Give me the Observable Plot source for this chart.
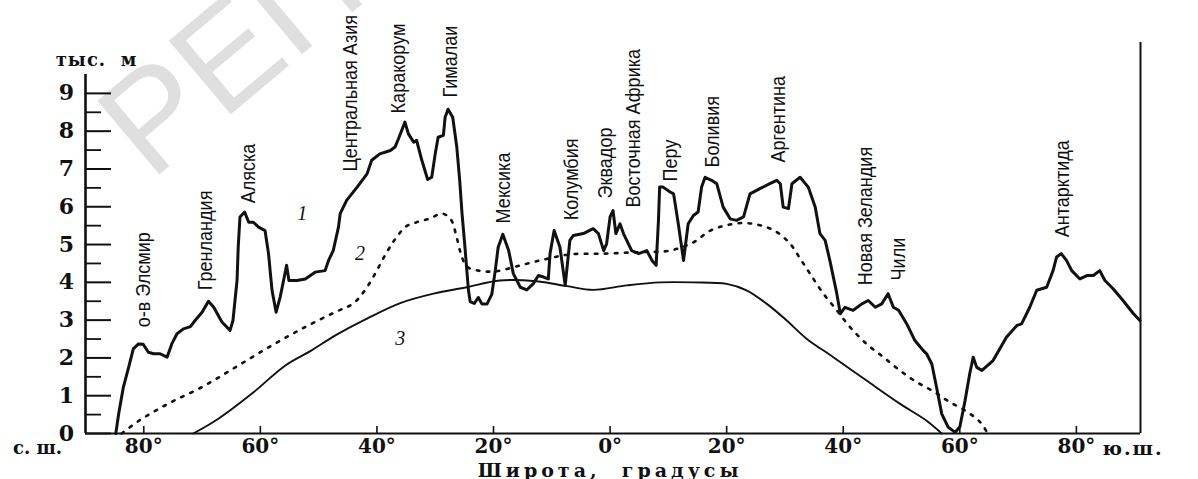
<!DOCTYPE html>
<html><head><meta charset="utf-8">
<script src="https://cdn.jsdelivr.net/npm/d3@7"></script>
<script src="https://cdn.jsdelivr.net/npm/@observablehq/plot@0.6"></script>
<style>body{margin:0;background:#fff;} svg{display:block;}</style>
</head><body><div id="chart"></div>
<script>
// Curve 1: maximal elevations (thick line)
const curve1Lat = [-84.8,-84.3,-83.5,-82.6,-81.8,-80.9,-80.1,-79.2,-78.3,-77.2,
-76.0,-75.2,-74.3,-73.2,-72.0,-71.2,-70.0,-68.9,-68.0,-66.6,
-65.2,-64.7,-64.0,-63.8,-63.5,-62.7,-62.0,-61.2,-60.3,-59.2,
-58.6,-58.0,-57.3,-56.6,-55.9,-55.5,-55.1,-53.7,-52.3,-50.6,
-48.9,-48.3,-47.5,-46.6,-46.3,-45.2,-43.4,-41.7,-40.9,-39.5,
-37.7,-36.9,-36.3,-35.2,-34.6,-33.7,-33.2,-32.3,-31.3,-30.6,
-30.0,-29.5,-28.6,-28.3,-27.8,-27.0,-26.3,-25.8,-25.4,-24.9,
-24.3,-24.0,-23.3,-22.6,-22.0,-21.1,-20.3,-19.7,-19.2,-18.4,
-17.4,-16.6,-15.4,-14.3,-13.2,-12.3,-11.4,-10.6,-10.3,-9.6,
-8.6,-7.7,-6.9,-6.3,-4.6,-2.9,-2.0,-1.1,-0.6,0,
0.5,1.0,1.7,2.3,3.7,4.9,6.3,7.2,7.9,8.3,
8.5,9.1,10.3,10.9,11.7,12.6,13.4,14.3,15.1,15.7,
16.3,17.4,18.3,19.4,20.6,21.7,22.9,24.0,25.7,27.4,
28.6,29.2,29.7,30.6,31.2,32.6,34.0,35.2,36.0,36.9,
37.7,38.9,39.5,40.3,41.7,43.2,44.3,45.5,46.6,47.7,
48.6,49.5,50.9,52.3,53.7,54.3,55.2,56.0,56.9,58.0,
59.2,60.0,60.9,61.7,62.3,62.9,63.8,65.7,68.0,69.8,
70.6,72.0,73.2,74.9,76.0,76.6,77.4,78.3,79.2,80.6,
81.8,82.9,84.0,84.9,86.3,88.0,89.8,90.9];
const curve1Km = [0,0.53,1.23,1.75,2.24,2.37,2.36,2.15,2.11,2.11,
2.02,2.37,2.64,2.77,2.83,2.99,3.21,3.50,3.34,2.95,
2.73,2.99,4.05,4.93,5.73,5.86,5.59,5.59,5.46,5.37,
4.76,3.79,3.21,3.61,4.14,4.45,4.05,4.05,4.09,4.27,
4.31,4.58,4.84,5.46,5.82,6.17,6.52,6.87,7.23,7.40,
7.49,7.58,7.80,8.24,7.93,7.71,7.76,7.23,6.72,6.78,
7.40,7.84,7.89,8.37,8.58,8.37,7.58,6.70,5.82,4.93,
3.79,3.49,3.44,3.60,3.43,3.43,3.68,4.31,4.93,5.27,
4.84,4.23,3.87,3.80,3.96,4.18,4.14,4.09,4.76,5.37,
4.93,3.92,5.11,5.24,5.29,5.42,5.29,4.84,5.02,5.73,
5.90,5.29,5.55,5.29,4.84,4.76,4.84,4.58,4.45,5.64,
6.52,6.52,6.39,6.34,5.55,4.58,5.55,5.77,5.86,6.52,
6.78,6.70,6.61,5.99,5.68,5.64,5.73,6.34,6.48,6.61,
6.70,6.61,5.99,5.95,6.61,6.78,6.52,5.99,5.29,5.11,
4.58,3.70,3.17,3.34,3.26,3.43,3.52,3.34,3.43,3.70,
3.34,3.26,2.90,2.46,2.20,2.11,1.84,1.23,0.52,0.17,
0.03,0.17,0.87,1.58,2.02,1.75,1.67,1.93,2.55,2.86,
2.90,3.34,3.79,3.87,4.31,4.67,4.76,4.58,4.31,4.09,
4.18,4.18,4.31,4.05,3.83,3.52,3.17,2.99];

// Curve 2: dotted line
const curve2Lat = [-83.8,-80.9,-75.8,-70.0,-64.3,-58.6,-52.9,-47.2,-44.0,-41.5,
-38.3,-36.6,-35.0,-33.2,-30.9,-28.8,-27.3,-26.4,-25.6,-24.6,
-22.6,-19.7,-15.4,-10.9,-6.9,-1.1,5.1,10.3,14.3,17.2,
20.0,22.9,25.7,28.3,30.9,32.6,34.3,36.6,38.9,41.2,
44.0,46.9,49.7,52.6,55.5,58.3,61.2,63.5,64.8];
const curve2Km = [0,0.33,0.79,1.23,1.75,2.28,2.77,3.21,3.45,3.92,
4.80,5.20,5.48,5.59,5.69,5.82,5.66,5.24,4.76,4.42,
4.31,4.29,4.45,4.62,4.74,4.76,4.80,4.84,5.06,5.37,
5.51,5.57,5.51,5.36,5.02,4.63,4.23,3.70,3.26,2.81,
2.37,2.02,1.67,1.36,1.11,0.83,0.58,0.30,0];

// Curve 3: thin solid line
const curve3Lat = [-71.5,-67.2,-61.5,-55.7,-51.2,-47.2,-41.7,-36.0,-30.3,-24.6,
-18.9,-12.6,-7.4,-2.9,2.9,8.6,14.3,20.0,23.4,26.9,
30.3,33.7,38.3,44.0,49.7,54.3,56.9];
const curve3Km = [0,0.39,1.05,1.80,2.20,2.59,3.04,3.45,3.70,3.87,
4.05,4.03,3.90,3.80,3.92,4.00,4.00,3.96,3.79,3.43,
2.99,2.51,2.02,1.40,0.79,0.34,0];

// Region labels
const regionNames = ["о-в Элсмир","Гренландия","Аляска","Центральная Азия","Каракорум","Гималаи",
"Мексика","Колумбия","Эквадор","Восточная Африка","Перу","Боливия","Аргентина",
"Новая Зеландия","Чили","Антарктида"];
const regionLat = [-80.1,-69.5,-62.1,-44.6,-36.3,-27.4,-18.4,-6.7,-0.9,3.9,10.3,17.5,28.8,43.7,49.4,77.5];
const regionKm = [2.81,3.79,6.09,6.93,8.47,8.89,5.56,5.64,6.22,5.98,6.67,7.04,7.17,3.92,4.05,5.19];

// Curve numbers
const curveNames = ["1","2","3"];
const curveNameLat = [-52.8,-42.9,-36.0];
const curveNameKm = [5.82,4.76,2.51];

// Axis ticks
const xTicks = [-80,-60,-40,-20,0,20,40,60,80];
const yMajor = [0,1,2,3,4,5,6,7,8,9];
const yMinor = [0.5,1.5,2.5,3.5,4.5,5.5,6.5,7.5,8.5];

const xTitle = "Широта,  градусы";
const yTitle = "тыс.  м";
const northLabel = "с. ш.";
const southLabel = "ю.ш.";
const watermark = "РЕПОЗИТОРИЙ";

const rows = (lat, km) => lat.map((x, i) => ({lat: x, km: km[i]}));
const c1 = rows(curve1Lat, curve1Km);
const c2 = rows(curve2Lat, curve2Km);
const c3 = rows(curve3Lat, curve3Km);
const regions = regionNames.map((n, i) => ({name: n, lat: regionLat[i], km: regionKm[i]}));
const nums = curveNames.map((n, i) => ({name: n, lat: curveNameLat[i], km: curveNameKm[i]}));

const serif = "'DejaVu Serif', 'Liberation Serif', serif";
const sans = "'Liberation Sans', Arial, sans-serif";
const W = 1198, H = 479, ML = 85, MR = 58, MT = 74, MB = 46;
const frameW = W - ML - MR, frameH = H - MT - MB;

const chart = Plot.plot({
  width: W, height: H,
  marginLeft: ML, marginRight: MR, marginTop: MT, marginBottom: MB,
  x: {domain: [-90, 91], axis: null},
  y: {domain: [0, 9.5], axis: null},
  style: {background: "#fff", overflow: "visible", color: "#111"},
  marks: [
    Plot.text([watermark], {frameAnchor: "top-left", dx: 1, dy: 31, rotate: -40, textAnchor: "start",
      fontSize: 140, fill: "#dfdfdf", fontFamily: sans}),
    // axes lines
    Plot.ruleX([-90], {stroke: "#111", strokeWidth: 2.6}),
    Plot.ruleX([91], {y1: 0, y2: 10.35, stroke: "#111", strokeWidth: 2}),
    Plot.ruleY([0], {stroke: "#111", strokeWidth: 2}),
    Plot.ruleY(yMajor, {stroke: "#111", strokeWidth: 2, insetRight: frameW - 26}),
    Plot.ruleY(yMinor, {stroke: "#111", strokeWidth: 1.8, insetRight: frameW - 16}),
    Plot.ruleX(xTicks, {stroke: "#111", strokeWidth: 1.6, insetTop: frameH - 7}),
    // curves
    Plot.line(c3, {x: "lat", y: "km", stroke: "#111", strokeWidth: 1.9, curve: "catmull-rom"}),
    Plot.line(c2, {x: "lat", y: "km", stroke: "#111", strokeWidth: 2.6, strokeDasharray: "2.6,7.4", curve: "catmull-rom"}),
    Plot.line(c1, {x: "lat", y: "km", stroke: "#111", strokeWidth: 3, strokeLinejoin: "round"}),
    // labels
    Plot.text(regions, {x: "lat", y: "km", text: "name", rotate: -90, textAnchor: "start",
      fontSize: 21, fontFamily: sans, fill: "#111"}),
    Plot.text(nums, {x: "lat", y: "km", text: "name", fontSize: 20, fontStyle: "italic",
      fontFamily: "'Liberation Serif', serif", fill: "#111"}),
    // tick labels
    Plot.text(yMajor, {x: -90, y: d => d, dx: -19, text: d => String(d), fontSize: 22, fontWeight: "bold",
      fontFamily: serif, fill: "#111"}),
    Plot.text(xTicks, {x: d => d, y: 0, dy: 13, text: d => Math.abs(d) + "°", fontSize: 20, fontWeight: "bold",
      fontFamily: serif, fill: "#111"}),
    Plot.text([northLabel], {x: -90, y: 0, dx: -48, dy: 15, fontSize: 18, fontWeight: "bold", fontFamily: serif, fill: "#111"}),
    Plot.text([southLabel], {x: 91, y: 0, dx: -38, dy: 15, textAnchor: "start", fontSize: 19, fontWeight: "bold", fontFamily: serif, fill: "#111"}),
    Plot.text([xTitle], {x: 0, y: 0, dy: 37, fontSize: 19, fontWeight: "bold", fontFamily: serif, fill: "#111"}),
    Plot.text([yTitle], {x: -90, y: 9.5, dx: 11, dy: -14, fontSize: 18, fontWeight: "bold", fontFamily: serif, fill: "#111"})
  ]
});
document.getElementById("chart").appendChild(chart);
const svg = d3.select(chart);
const byText = (t) => svg.selectAll("text").filter(function() { return this.textContent === t; });
byText(xTitle).style("letter-spacing", "4px").style("white-space", "pre");
byText(yTitle).style("letter-spacing", "1px").style("white-space", "pre");
byText(southLabel).style("letter-spacing", "2px");
// emulate the condensed typeface of the region labels (rotated text: squeeze along its own x)
svg.selectAll("text").filter(function() { return regionNames.includes(this.textContent); })
  .attr("transform", function() { return (this.getAttribute("transform") || "") + " scale(0.86,1)"; });
</script>
</body></html>
